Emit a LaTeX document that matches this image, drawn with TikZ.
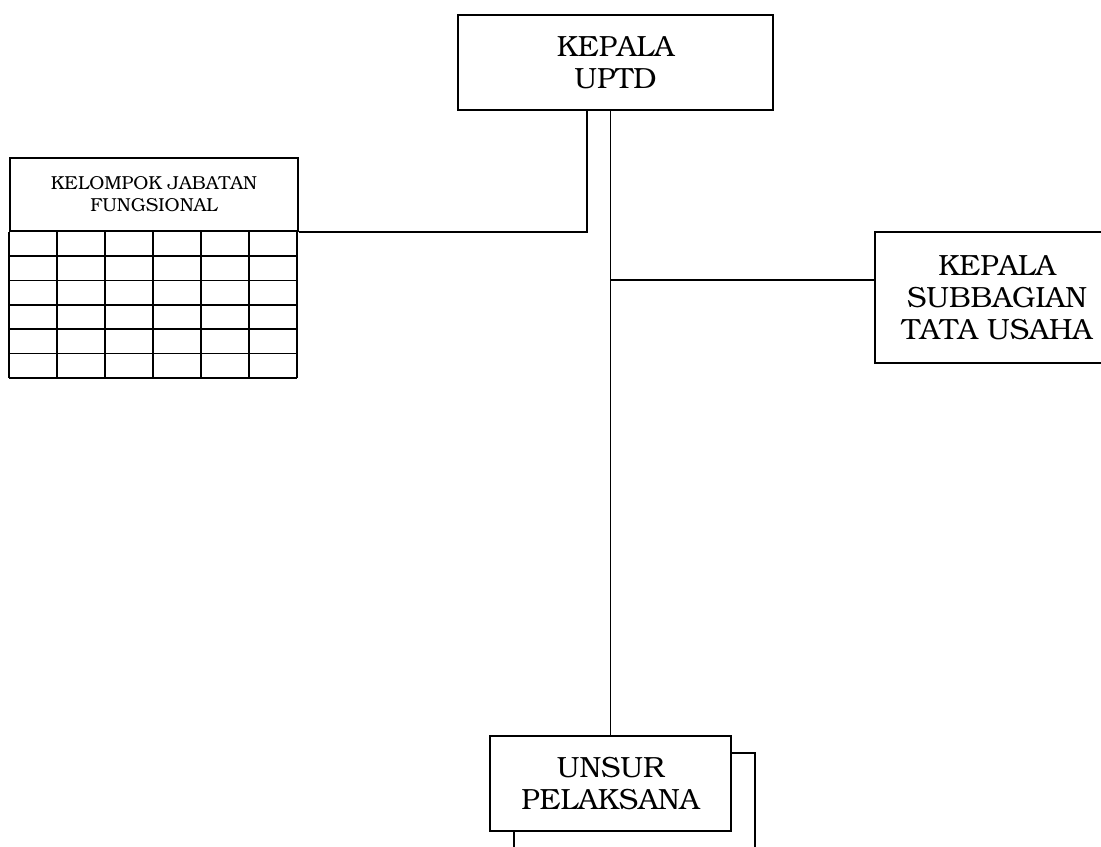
\documentclass[tikz,border=0pt]{standalone}
\usepackage[T1]{fontenc}
\usepackage{bookman}
\usepackage{tikz}
\usetikzlibrary{calc}

\tikzset{
  unitbox/.style={draw,line width=0.9pt,fill=white,inner sep=0pt,align=center,
    font=\fontsize{14.6}{16}\selectfont},
  smallbox/.style={draw,line width=0.9pt,inner sep=0pt,align=center,
    font=\fontsize{9.4}{11}\selectfont},
  garis/.style={line width=0.9pt},
}

\begin{document}
\begin{tikzpicture}[x=0.5pt,y=-0.5pt]

          \useasboundingbox (0,0) rectangle (1101,846); %ukuran gambar

          \node[unitbox,minimum width=157.5pt,minimum height=47.5pt] (kepala) at (615.5,62.5) {KEPALA\\UPTD}; %kepala UPTD
          \node[smallbox,minimum width=144pt,minimum height=36.5pt] (jabfung) at (154,194.5) {KELOMPOK JABATAN\\FUNGSIONAL}; %kelompok jabatan fungsional
          \node[unitbox,minimum width=122pt,minimum height=65.5pt] (subbag) at (997,297.5) {KEPALA\\SUBBAGIAN\\TATA USAHA}; %subbagian tata usaha
          \node[unitbox,minimum width=120.5pt,minimum height=47.5pt] (bayang) at (634.5,800.5) {}; %kotak belakang
          \node[unitbox,minimum width=120.5pt,minimum height=47.5pt] (unsur) at (610.5,783.5) {UNSUR\\PELAKSANA}; %unsur pelaksana

          % tabel jabatan fungsional
          \foreach \i in {0,...,6}
            \draw[garis] ($(jabfung.south west)+(48*\i,0)$) -- ++(0,146);
          \foreach \j in {1,...,6}
            \draw[garis] ($(jabfung.south west)+(0,24.3*\j)$) -- ++(288,0);

          \coordinate (kiri) at (587,110); %garis ke jabatan fungsional
          \coordinate (cabang) at (611,280); %cabang ke tata usaha
          \draw[garis] (kiri) |- (jabfung.south east);
          \draw[garis] (unsur.north |- kepala.south) -- (unsur.north);
          \draw[garis] (cabang) -- (cabang -| subbag.west);

        \end{tikzpicture}
\end{document}
